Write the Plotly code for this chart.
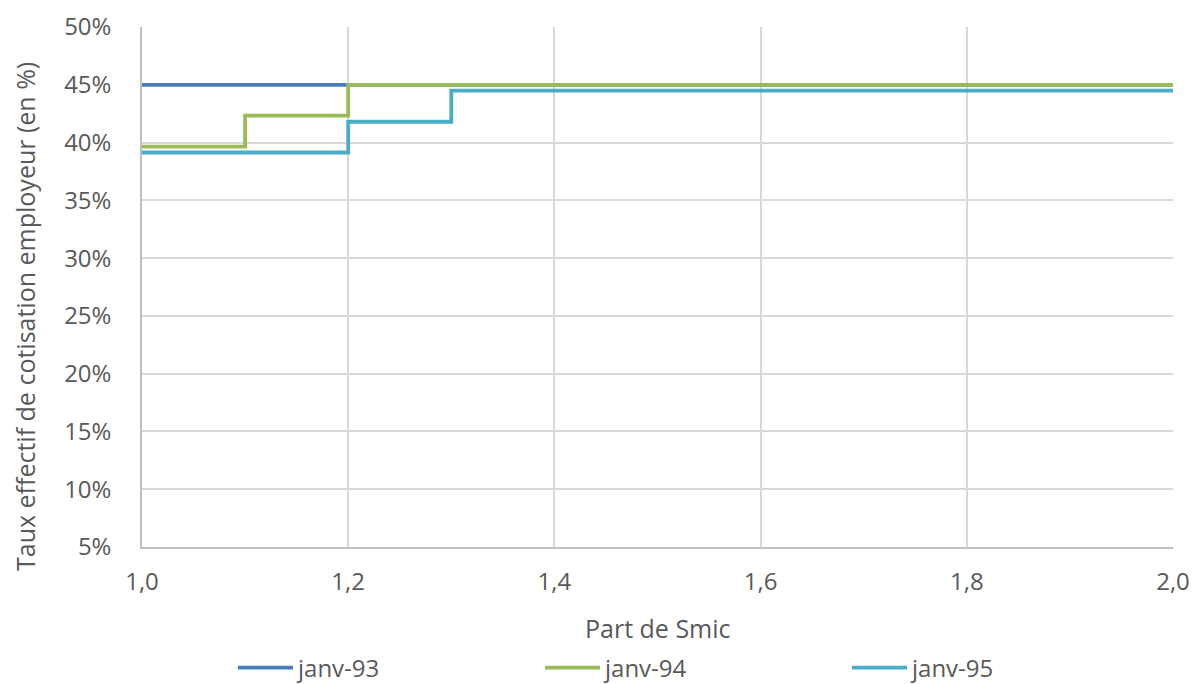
import plotly.graph_objects as go

x_smic = [1.0, 1.1, 1.2, 1.3, 1.4, 1.5, 1.6, 1.7, 1.8, 1.9, 2.0]
janv93 = [0.45, 0.45, 0.45, 0.45, 0.45, 0.45, 0.45, 0.45, 0.45, 0.45, 0.45]
janv94 = [0.3965, 0.4233, 0.45, 0.45, 0.45, 0.45, 0.45, 0.45, 0.45, 0.45, 0.45]
janv95 = [0.3914, 0.3914, 0.418, 0.445, 0.445, 0.445, 0.445, 0.445, 0.445, 0.445, 0.445]
series_names = ["janv-93", "janv-94", "janv-95"]
colors = ["#4A7EBB", "#9BBB59", "#4BACC6"]
x_title = "Part de Smic"
y_title = "Taux effectif de cotisation employeur (en %)"

FONT = "Open Sans"
TXT = "#595959"
FS = 24

W, H = 1192, 684

fig = go.Figure()
for name, ys, c in zip(series_names, [janv93, janv94, janv95], colors):
    fig.add_trace(go.Scatter(x=x_smic, y=ys, name=name, mode="lines",
                             line=dict(color=c, width=3.8, shape="hv")))

fig.update_layout(
    width=W, height=H,
    margin=dict(l=142, r=19, t=27, b=137, autoexpand=False),
    paper_bgcolor="white", plot_bgcolor="white",
    separators=", ",
    font=dict(family=FONT, size=FS, color=TXT),
    showlegend=True,
    legend=dict(orientation="h", xref="container", yref="container",
                x=233 / W, xanchor="left", y=16 / H, yanchor="middle",
                itemwidth=55, entrywidth=237, entrywidthmode="pixels",
                font=dict(family=FONT, size=FS, color=TXT)),
    xaxis=dict(range=[1.0, 2.0], dtick=0.2, tick0=1.0, tickformat=".1f",
               showgrid=True, gridcolor="#D9D9D9", gridwidth=1.5,
               showline=True, linecolor="#BFBFBF", linewidth=1.5,
               zeroline=False, ticks="", automargin=False, ticklabelstandoff=12),
    yaxis=dict(range=[0.05, 0.50], dtick=0.05, tick0=0.05, tickformat=".0%",
               showgrid=True, gridcolor="#D9D9D9", gridwidth=1.5,
               showline=True, linecolor="#BFBFBF", linewidth=1.5,
               zeroline=False, ticks="", automargin=False, ticklabelstandoff=24),
    annotations=[
        dict(text=x_title, xref="paper", yref="paper", x=0.5, y=0, yshift=-81,
             xanchor="center", yanchor="middle", showarrow=False,
             font=dict(family=FONT, size=25, color=TXT)),
        dict(text=y_title, xref="paper", yref="paper", x=0, xshift=-117,
             y=(547 - 317) / 520, xanchor="center", yanchor="middle",
             textangle=-90, showarrow=False,
             font=dict(family=FONT, size=25, color=TXT)),
    ],
)

fig.write_html(
    "out.html",
    config={"displayModeBar": False},
    post_script="document.body.style.margin='0';document.body.style.overflow='hidden';",
)
